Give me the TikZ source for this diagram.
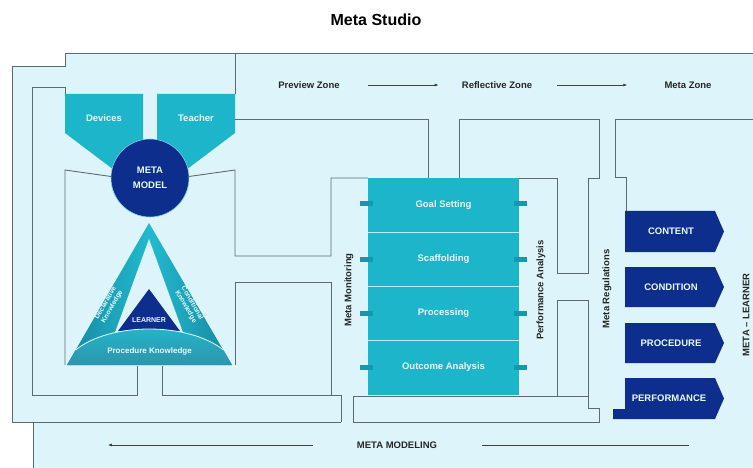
\documentclass[tikz,border=0pt]{standalone}
\usepackage{fontspec}
\setmainfont{Liberation Sans}
\usetikzlibrary{arrows.meta}
\definecolor{bg}{HTML}{DDF5FA}
\definecolor{tealA}{HTML}{1DB5CA}
\definecolor{tealD}{HTML}{1689A3}
\definecolor{tealM}{HTML}{22B9CE}
\definecolor{navy}{HTML}{0E2E8E}
\definecolor{wallc}{HTML}{5C6B72}
\definecolor{lt}{HTML}{E6FAFF}
\definecolor{tabc}{HTML}{1597AD}
\begin{document}
\begin{tikzpicture}[x=1pt,y=-1pt,
  wall/.style={draw=wallc, line width=0.9pt},
  lbl/.style={font=\fontsize{9.5}{11}\selectfont\bfseries, text=black!85, inner sep=0pt},
  wlbl/.style={font=\fontsize{9.5}{11}\selectfont\bfseries, text=lt, inner sep=0pt},
  small/.style={font=\fontsize{8}{8.6}\selectfont\bfseries, text=lt, inner sep=0pt, align=center},
  bandtxt/.style={font=\fontsize{6.8}{7.4}\selectfont\bfseries, text=lt, inner sep=0pt, align=center},
  rowbox/.style={rectangle, fill=tealA, minimum width=151pt, minimum height=54pt, inner sep=0pt,
    font=\fontsize{9.5}{11}\selectfont\bfseries, text=lt},
  zarrow/.style={draw=black!75, line width=0.7pt, -{Latex[length=4pt,width=3pt]}},
  blueshape/.style={fill=navy}]
\useasboundingbox (0,0) rectangle (753,468);
\fill[white] (0,0) rectangle (753,468);
% background area
\fill[bg] (12,66) -- (65,66) -- (65,53) -- (753,53) -- (753,468) -- (33,468) -- (33,422) -- (12,422) -- cycle;
% title
\node[font=\fontsize{16}{18}\selectfont\bfseries, inner sep=0pt] (title) at (376,20) {Meta Studio};
% walls
\draw[wall] (341,422) -- (12,422) -- (12,66) -- (65,66) -- (65,53) -- (753,53);
\draw[wall] (33,422) -- (33,468);
\draw[wall] (65,94) -- (65,87) -- (32,87) -- (32,395) -- (137,395) -- (137,366);
\draw[wall] (162,366) -- (162,395) -- (341,395) -- (341,422);
\draw[wall] (235,53) -- (235,94);
\draw[wall] (235,119) -- (428,119) -- (428,178);
\draw[wall] (459,178) -- (459,119) -- (599,119) -- (599,178) -- (588,178) -- (588,273) -- (557,273) -- (557,178) -- (519,178);
\draw[wall] (753,119) -- (615,119) -- (615,177) -- (626,177) -- (626,211);
\draw[wall] (150,182) -- (65,170) -- (65,365);
\draw[wall] (150,182) -- (235,170) -- (235,256) -- (331,256) -- (331,178) -- (368,178);
\draw[wall] (235,365) -- (235,282) -- (331,282) -- (331,395);
\draw[wall] (557,396) -- (557,300) -- (588,300) -- (588,408) -- (599,408) -- (599,422) -- (353,422) -- (353,396) -- (588,396);
% devices / teacher funnels
\fill[tealA] (65,94) -- (143,94) -- (143,160) -- (122,176) -- (65,133) -- cycle;
\fill[tealA] (157,94) -- (235,94) -- (235,133) -- (178,176) -- (157,160) -- cycle;
\node[wlbl] (devices) at (104,118) {Devices};
\node[wlbl] (teacher) at (196,118) {Teacher};
% meta model circle
\node[circle, fill=navy, draw=tealM!60, line width=0.6pt, minimum size=78pt, inner sep=0pt,
  font=\fontsize{9.5}{15}\selectfont\bfseries, text=lt, align=center] (meta) at (150,178) {META\\MODEL};
% triangle
\shade[left color=tealD, right color=tealD, middle color=tealM] (149,223) -- (67,365) -- (232,365) -- cycle;
\fill[bg] (149,239) -- (113,338) -- (185,338) -- cycle;
\fill[navy] (149,289) -- (118,331) -- (180,331) -- cycle;
\shade[top color=tealM, bottom color=tealD!90] (67,365) -- (75.6,350) .. controls (110,322) and (188,322) .. (223.5,350) -- (232,365) -- cycle;
\draw[lt, line width=0.8pt] (75.6,350) .. controls (110,322) and (188,322) .. (223.5,350);
\node[bandtxt, font=\fontsize{7}{8}\selectfont\bfseries] (learner) at (149,320) {LEARNER};
\node[small] (proc) at (149.5,351) {Procedure Knowledge};
\node[bandtxt, rotate=60] (decl) at (109,305) {Declarative\\Knowledge};
\node[bandtxt, rotate=-60] (cond) at (189,305) {Conditional\\Knowledge};
% process column
\node[rowbox] (goal) at (443.5,205) {Goal Setting};
\node[rowbox] (scaf) at (443.5,259) {Scaffolding};
\node[rowbox] (procg) at (443.5,313) {Processing};
\node[rowbox, minimum height=55pt] (outc) at (443.5,367.5) {Outcome Analysis};
\draw[lt!80!tealA, line width=1.2pt] (goal.south west) -- (goal.south east);
\draw[lt!80!tealA, line width=1.2pt] (scaf.south west) -- (scaf.south east);
\draw[lt!80!tealA, line width=1.2pt] (procg.south west) -- (procg.south east);
\foreach \yy in {204,259,313,367}{
  \fill[tabc] (360,\yy-2.5) rectangle (373,\yy+2.5);
  \fill[tabc] (514,\yy-2.5) rectangle (527,\yy+2.5);
}
% rotated labels
\node[lbl, rotate=90] (mmon) at (349,290) {Meta Monitoring};
\node[lbl, rotate=90] (perf) at (541,290) {Performance Analysis};
\node[lbl, rotate=90] (mreg) at (607,289) {Meta Regulations};
\node[lbl, rotate=90] (mlearn) at (746,315) {META \textendash\ LEARNER};
% right arrows
\fill[blueshape] (625,211) -- (715,211) -- (724,231.5) -- (715,252) -- (625,252) -- cycle;
\fill[blueshape] (625,267) -- (715,267) -- (724,287) -- (715,307) -- (625,307) -- cycle;
\fill[blueshape] (625,323) -- (715,323) -- (724,343) -- (715,363) -- (625,363) -- cycle;
\fill[blueshape] (625,378) -- (715,378) -- (724,398.5) -- (715,419) -- (613,419) -- (613,409) -- (625,409) -- cycle;
\node[wlbl] (content) at (671,231.5) {CONTENT};
\node[wlbl] (condition) at (671,287) {CONDITION};
\node[wlbl] (procedure) at (671,343) {PROCEDURE};
\node[wlbl] (performance) at (669,398.5) {PERFORMANCE};
% zones
\node[lbl] (pz) at (309,85) {Preview Zone};
\node[lbl] (rz) at (497,85) {Reflective Zone};
\node[lbl] (mz) at (688,85) {Meta Zone};
\draw[zarrow] ([xshift=28pt]pz.east) -- ([xshift=-23pt]rz.west);
\draw[zarrow] ([xshift=25pt]rz.east) -- ([xshift=-37pt]mz.west);
% meta modeling
\node[lbl] (mm) at (397,445) {META MODELING};
\draw[draw=black!75, line width=0.7pt] ([xshift=45pt]mm.east) -- ([xshift=252pt]mm.east);
\draw[zarrow] ([xshift=-44pt]mm.west) -- ([xshift=-249pt]mm.west);
\end{tikzpicture}
\end{document}
